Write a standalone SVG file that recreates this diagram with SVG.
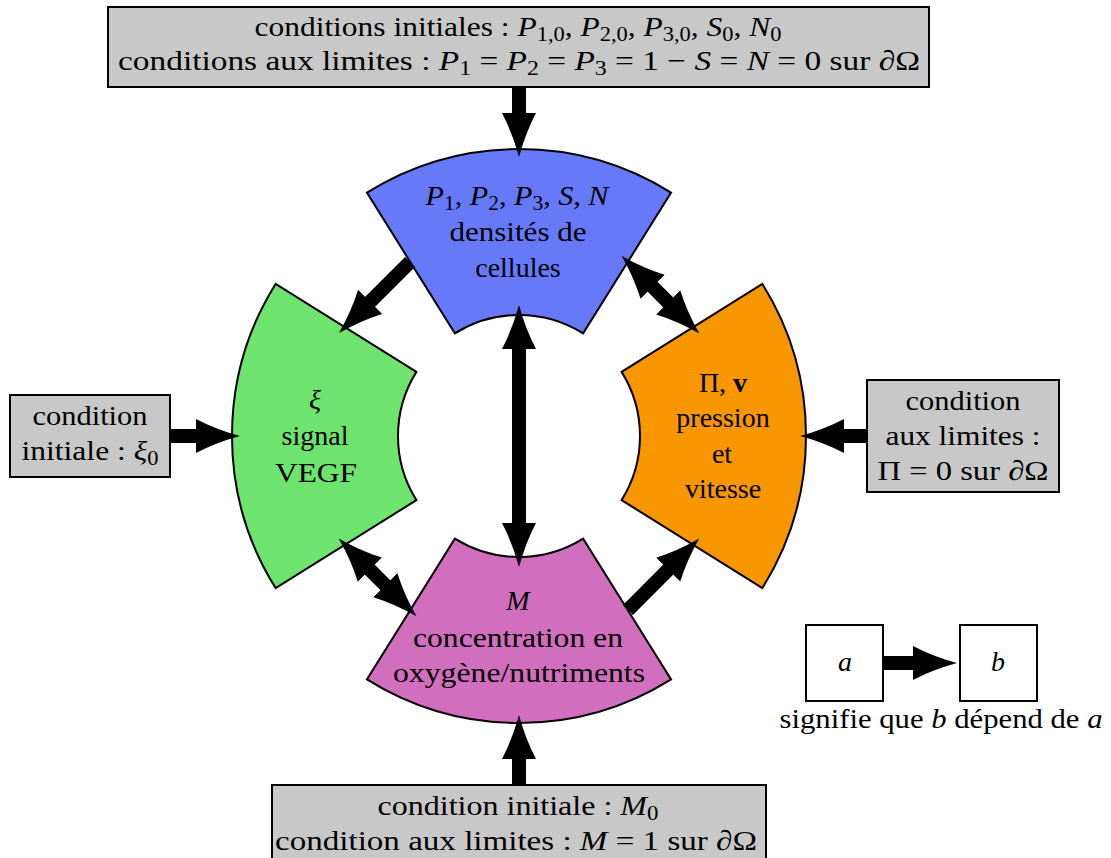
<svg xmlns="http://www.w3.org/2000/svg" width="1111" height="858" viewBox="0 0 1111 858">
<style>
text{font-family:'Liberation Serif','Times New Roman',Times,Tinos,'Noto Serif','DejaVu Serif',serif;font-size:28px;fill:#000;text-anchor:middle}
.m{font-style:italic}
.b{font-weight:bold}
.s{font-size:20px}
.box{fill:#c8c8c8;stroke:#000;stroke-width:2}
.wbox{fill:#fff;stroke:#000;stroke-width:2}
.sec{stroke:#000;stroke-width:2;stroke-linejoin:miter}
.ar{stroke:#000;stroke-width:14;fill:none;marker-end:url(#ah)}
.ar2{stroke:#000;stroke-width:14;fill:none;marker-end:url(#ah);marker-start:url(#ah)}
</style>
<defs>
<marker id="ah" markerUnits="userSpaceOnUse" markerWidth="46" markerHeight="36" viewBox="0 -18 46 36" refX="2" refY="0" orient="auto-start-reverse">
<path d="M0,-17 Q20,-6.5 44,0 Q20,6.5 0,17 Z" fill="#000"/>
</marker>
</defs>
<rect width="1111" height="858" fill="#fff"/>

<g id="top-box" font-family="Liberation Serif, serif">
<rect class="box" x="108" y="7" width="821" height="80"/>
<text x="518" y="36" textLength="527" lengthAdjust="spacingAndGlyphs">conditions initiales : <tspan class="m">P</tspan><tspan class="s" dy="5">1,0</tspan><tspan dy="-5">, </tspan><tspan class="m">P</tspan><tspan class="s" dy="5">2,0</tspan><tspan dy="-5">, </tspan><tspan class="m">P</tspan><tspan class="s" dy="5">3,0</tspan><tspan dy="-5">, </tspan><tspan class="m">S</tspan><tspan class="s" dy="5">0</tspan><tspan dy="-5">, </tspan><tspan class="m">N</tspan><tspan class="s" dy="5">0</tspan></text>
<text x="519" y="70" textLength="802" lengthAdjust="spacingAndGlyphs">conditions aux limites : <tspan class="m">P</tspan><tspan class="s" dy="5">1</tspan><tspan dy="-5"> = </tspan><tspan class="m">P</tspan><tspan class="s" dy="5">2</tspan><tspan dy="-5"> = </tspan><tspan class="m">P</tspan><tspan class="s" dy="5">3</tspan><tspan dy="-5"> = 1 − </tspan><tspan class="m">S</tspan> = <tspan class="m">N</tspan> = 0 sur <tspan class="m">∂</tspan>Ω</text>
</g>

<g id="blue">
<path class="sec" fill="#6679f9" d="M366.91,192.61 A287,287 0 0 1 671.09,192.61 L583.12,333.39 A121,121 0 0 0 454.88,333.39 Z"/>
<text x="517" y="205" textLength="183" lengthAdjust="spacingAndGlyphs"><tspan class="m">P</tspan><tspan class="s" dy="5">1</tspan><tspan dy="-5">, </tspan><tspan class="m">P</tspan><tspan class="s" dy="5">2</tspan><tspan dy="-5">, </tspan><tspan class="m">P</tspan><tspan class="s" dy="5">3</tspan><tspan dy="-5">, </tspan><tspan class="m">S</tspan>, <tspan class="m">N</tspan></text>
<text x="518" y="241" textLength="137" lengthAdjust="spacingAndGlyphs">densités de</text>
<text x="518" y="277">cellules</text>
</g>

<g id="green">
<path class="sec" fill="#6ee46e" d="M275.61,588.09 A287,287 0 0 1 275.61,283.91 L416.39,371.88 A121,121 0 0 0 416.39,500.12 Z"/>
<text x="315" y="409" class="m">ξ</text>
<text x="315" y="445">signal</text>
<text x="316" y="482" textLength="82" lengthAdjust="spacingAndGlyphs">VEGF</text>
</g>

<g id="orange">
<path class="sec" fill="#f89600" d="M762.39,283.91 A287,287 0 0 1 762.39,588.09 L621.61,500.12 A121,121 0 0 0 621.61,371.88 Z"/>
<text x="723" y="392">Π, <tspan class="b">v</tspan></text>
<text x="723" y="427">pression</text>
<text x="722" y="463">et</text>
<text x="723" y="498">vitesse</text>
</g>

<g id="magenta">
<path class="sec" fill="#d26ebe" d="M671.09,679.39 A287,287 0 0 1 366.91,679.39 L454.88,538.61 A121,121 0 0 0 583.12,538.61 Z"/>
<text x="518" y="610" class="m">M</text>
<text x="518" y="647" textLength="210" lengthAdjust="spacingAndGlyphs">concentration en</text>
<text x="519" y="682" textLength="252" lengthAdjust="spacingAndGlyphs">oxygène/nutriments</text>
</g>

<g id="left-box">
<rect class="box" x="10" y="395" width="160" height="82"/>
<text x="90" y="425" textLength="115" lengthAdjust="spacingAndGlyphs">condition</text>
<text x="90" y="460" textLength="137" lengthAdjust="spacingAndGlyphs">initiale : <tspan class="m">ξ</tspan><tspan class="s" dy="5">0</tspan></text>
</g>

<g id="right-box">
<rect class="box" x="867" y="380" width="192" height="112"/>
<text x="963" y="410" textLength="115" lengthAdjust="spacingAndGlyphs">condition</text>
<text x="963" y="445" textLength="155" lengthAdjust="spacingAndGlyphs">aux limites :</text>
<text x="963" y="480" textLength="171" lengthAdjust="spacingAndGlyphs">Π = 0 sur <tspan class="m">∂</tspan>Ω</text>
</g>

<g id="bottom-box">
<rect class="box" x="272" y="785" width="494" height="85"/>
<text x="518" y="815" textLength="281" lengthAdjust="spacingAndGlyphs">condition initiale : <tspan class="m">M</tspan><tspan class="s" dy="5">0</tspan></text>
<text x="516" y="850" textLength="482" lengthAdjust="spacingAndGlyphs">condition aux limites : <tspan class="m">M</tspan> = 1 sur <tspan class="m">∂</tspan>Ω</text>
</g>

<g id="legend">
<rect class="wbox" x="806" y="625" width="77" height="76"/>
<rect class="wbox" x="960" y="625" width="77" height="76"/>
<text x="845" y="671" class="m">a</text>
<text x="998" y="671" class="m">b</text>
<text x="941" y="728" textLength="323" lengthAdjust="spacingAndGlyphs">signifie que <tspan class="m">b</tspan> dépend de <tspan class="m">a</tspan></text>
</g>

<g id="connectors">
<line class="ar" x1="519" y1="87" x2="519" y2="115"/>
<line class="ar" x1="170" y1="436" x2="198" y2="436"/>
<line class="ar" x1="867" y1="436" x2="842" y2="436"/>
<line class="ar" x1="519" y1="785" x2="519" y2="757"/>
<line class="ar2" x1="519" y1="347" x2="519" y2="525"/>
<line class="ar" x1="410" y1="262" x2="368.7" y2="303.3"/>
<line class="ar2" x1="651.2" y1="285.4" x2="669.6" y2="303.8"/>
<line class="ar2" x1="368.4" y1="568.2" x2="386.8" y2="586.6"/>
<line class="ar" x1="628" y1="610" x2="669.6" y2="568.2"/>
<line class="ar" x1="883" y1="663" x2="915" y2="663"/>
</g>
</svg>
